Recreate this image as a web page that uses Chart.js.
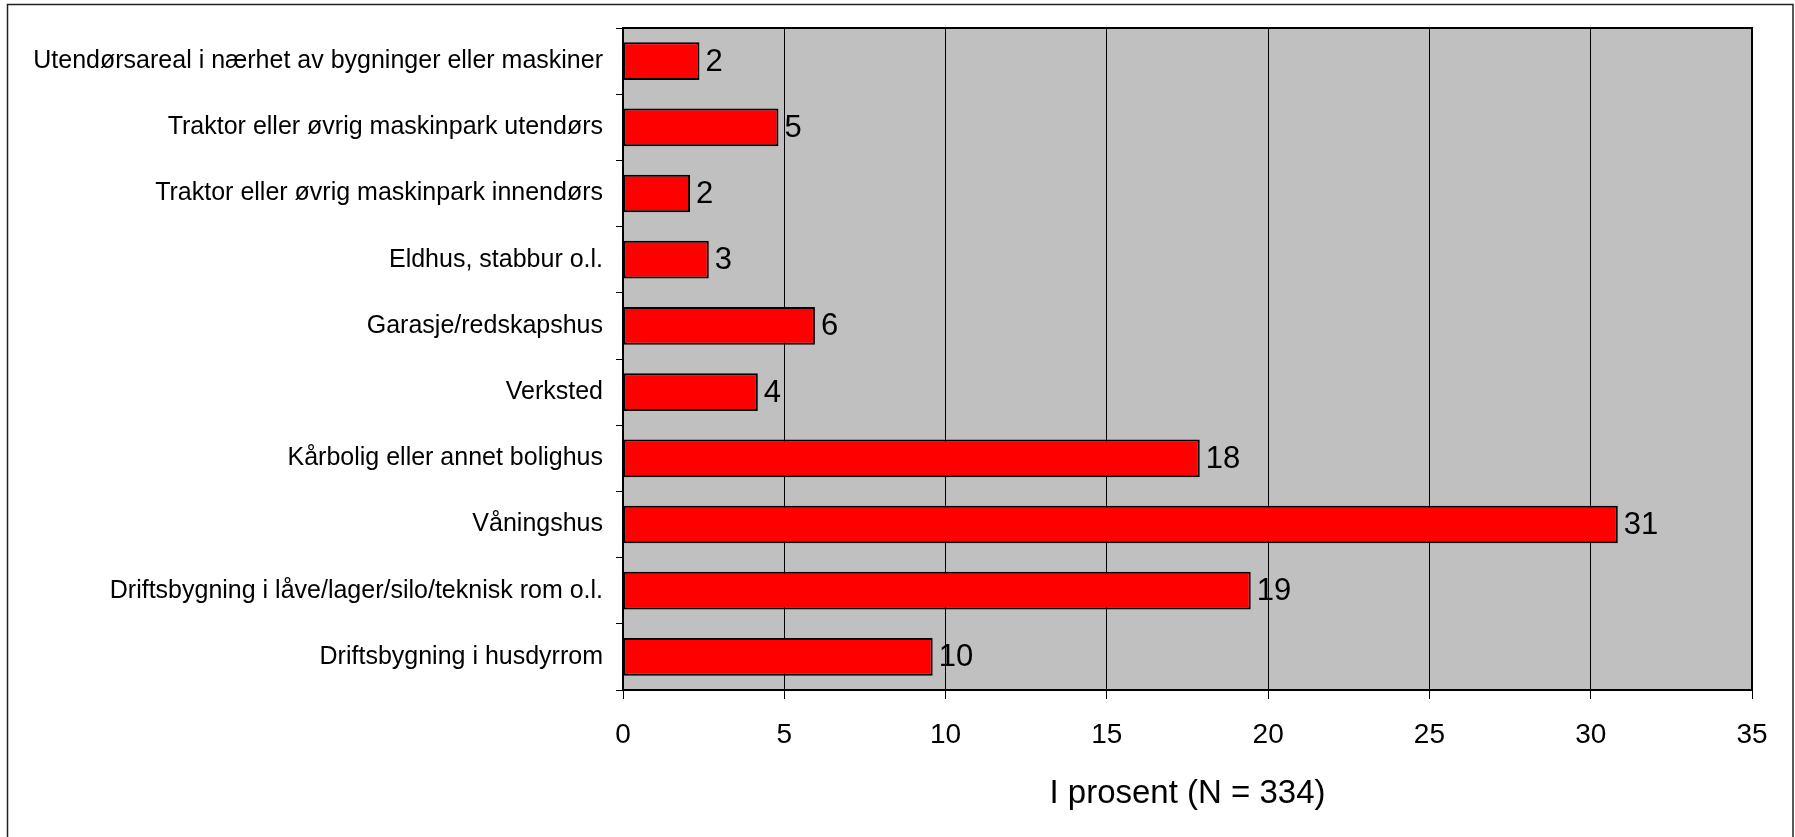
<!DOCTYPE html>
<html>
<head>
<meta charset="utf-8">
<script src="https://cdn.jsdelivr.net/npm/chart.js@4.4.1/dist/chart.umd.min.js"></script>
<style>
  html, body { margin: 0; padding: 0; background: #fff; }
  #wrap { width: 1795px; height: 837px; position: relative; }
</style>
</head>
<body>
<div id="wrap"><canvas id="barChart"></canvas></div>
<script>
// data (percent)
var categories = [
  "Utendørsareal i nærhet av bygninger eller maskiner",
  "Traktor eller øvrig maskinpark utendørs",
  "Traktor eller øvrig maskinpark innendørs",
  "Eldhus, stabbur o.l.",
  "Garasje/redskapshus",
  "Verksted",
  "Kårbolig eller annet bolighus",
  "Våningshus",
  "Driftsbygning i låve/lager/silo/teknisk rom o.l.",
  "Driftsbygning i husdyrrom"
];
var percentValues = [2.37, 4.82, 2.08, 2.66, 5.95, 4.18, 17.88, 30.84, 19.46, 9.6];
var valueLabels = ["2", "5", "2", "3", "6", "4", "18", "31", "19", "10"];
var xTicks = [0, 5, 10, 15, 20, 25, 30, 35];
var xTitle = "I prosent (N = 334)";

var FONT = "'Liberation Sans', Arial, sans-serif";

// grey plot background, plot border, outer frame, value labels
var excelLook = {
  id: 'excelLook',
  beforeDraw: function (chart) {
    var a = chart.chartArea, ctx = chart.ctx;
    ctx.save();
    ctx.fillStyle = '#c0c0c0';
    ctx.fillRect(a.left, a.top, a.right - a.left, a.bottom - a.top);
    ctx.restore();
  },
  afterDatasetsDraw: function (chart) {
    var ctx = chart.ctx;
    var meta = chart.getDatasetMeta(0);
    ctx.save();
    ctx.fillStyle = '#000';
    ctx.font = '31px ' + FONT;
    ctx.textAlign = 'left';
    ctx.textBaseline = 'middle';
    meta.data.forEach(function (bar, i) {
      ctx.fillText(valueLabels[i], bar.x + 6, bar.y + 1);
    });
    ctx.restore();
  },
  afterDraw: function (chart) {
    var a = chart.chartArea, ctx = chart.ctx;
    ctx.save();
    ctx.strokeStyle = '#000';
    ctx.lineWidth = 2;
    ctx.strokeRect(a.left, a.top, a.right - a.left, a.bottom - a.top);
    ctx.lineWidth = 1.5;
    ctx.strokeStyle = '#222';
    ctx.strokeRect(7.5, 4.5, 1785.5, 840);
    ctx.restore();
  }
};

new Chart(document.getElementById('barChart').getContext('2d'), {
  type: 'bar',
  data: {
    labels: categories,
    datasets: [{
      data: percentValues,
      backgroundColor: '#ff0000',
      borderColor: '#000',
      borderWidth: 2,
      borderSkipped: false,
      barPercentage: 0.57,
      categoryPercentage: 1
    }]
  },
  options: {
    indexAxis: 'y',
    responsive: true,
    maintainAspectRatio: false,
    animation: false,
    layout: { padding: { left: 0, top: 24, right: 43, bottom: 0 } },
    plugins: {
      legend: { display: false },
      tooltip: { enabled: false }
    },
    scales: {
      x: {
        min: 0,
        max: 35,
        afterBuildTicks: function (scale) {
          scale.ticks = xTicks.map(function (v) { return { value: v }; });
        },
        afterFit: function (scale) { scale.height = 147; },
        border: { display: false },
        grid: {
          color: '#000',
          lineWidth: 1,
          tickLength: 9,
          tickColor: '#000'
        },
        ticks: {
          color: '#000',
          font: { family: FONT, size: 28 },
          padding: 19,
          maxRotation: 0
        },
        title: {
          display: true,
          text: xTitle,
          color: '#000',
          font: { family: FONT, size: 33 },
          padding: { top: 0, bottom: 23 }
        }
      },
      y: {
        afterFit: function (scale) { scale.width = 623; },
        border: { display: false },
        grid: {
          drawOnChartArea: false,
          tickLength: 7,
          tickColor: '#000',
          offset: true
        },
        ticks: {
          color: '#000',
          font: { family: FONT, size: 25 },
          padding: 13,
          autoSkip: false
        }
      }
    }
  },
  plugins: [excelLook]
});
</script>
</body>
</html>
